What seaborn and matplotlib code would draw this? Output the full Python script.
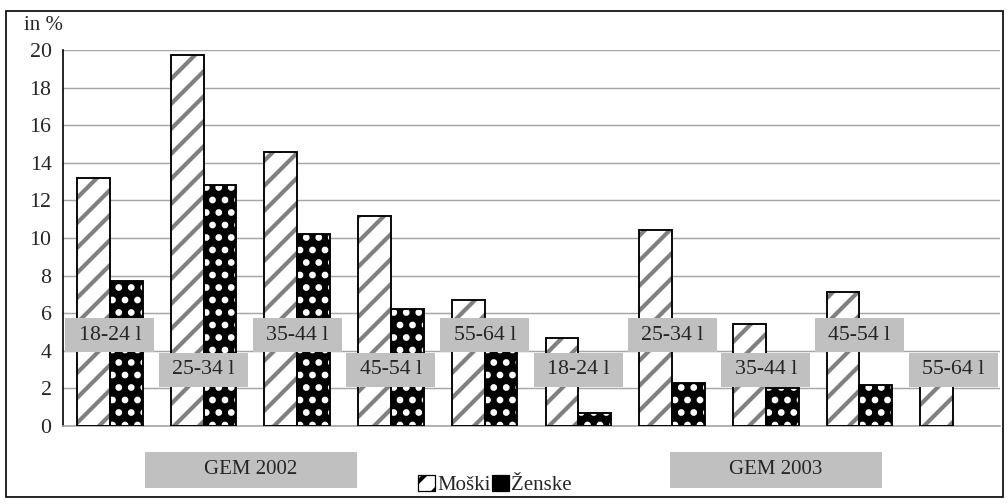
import numpy as np
import pandas as pd
import matplotlib
matplotlib.use('Agg')
import matplotlib.pyplot as plt
from matplotlib.patches import Rectangle
import seaborn as sns

# Podatki (odčitani s slike)
skupine = ['18-24 l', '25-34 l', '35-44 l', '45-54 l', '55-64 l',
           '18-24 l', '25-34 l', '35-44 l', '45-54 l', '55-64 l']
leta = ['GEM 2002'] * 5 + ['GEM 2003'] * 5
moski = [13.2, 19.75, 14.55, 11.15, 6.7, 4.7, 10.45, 5.4, 7.15, 2.9]
zenske = [7.7, 12.8, 10.2, 6.2, 4.0, 0.7, 2.3, 2.0, 2.2, np.nan]

sns.set_style('white')
plt.rcParams['font.family'] = ['Liberation Serif', 'DejaVu Serif']
plt.rcParams['hatch.linewidth'] = 2.0

kljuci = [f'{l} {s}' for l, s in zip(leta, skupine)]
df = pd.DataFrame({
    'kat': kljuci * 2,
    'vrednost': moski + zenske,
    'spol': ['Moški'] * 10 + ['Ženske'] * 10,
})

# dpi 150 -> gostejše šrafure
fig = plt.figure(figsize=(6.72, 3.36), dpi=150)
ax = fig.add_axes([63 / 1008, 1 - 426 / 504, 937 / 1008, 376 / 504])

sns.barplot(data=df, x='kat', y='vrednost', hue='spol', order=kljuci,
            hue_order=['Moški', 'Ženske'], width=0.7, gap=0, ax=ax,
            legend=False, errorbar=None)

# vzorci: moški = sive diagonalne črte, ženske = črno z belimi pikami
stili = [('white', '#808080', '//'), ('black', 'white', '..')]
for cont, (fc, hc, h) in zip(ax.containers, stili):
    for p in cont.patches:
        p.set_facecolor(fc)
        p.set_edgecolor(hc)
        p.set_hatch(h)
        p.set_linewidth(0)
        p.set_zorder(2)
        if np.isfinite(p.get_height()) and p.get_height() > 0:
            ax.add_patch(Rectangle((p.get_x(), p.get_y()), p.get_width(), p.get_height(),
                                   fill=False, ec='black', lw=0.9, zorder=3))

ax.set_xlim(-0.5, 9.5)
ax.set_ylim(0, 20)
ax.set_yticks(range(0, 21, 2))
ax.set_xticks([])
ax.set_xlabel('')
ax.set_ylabel('')
ax.yaxis.grid(True, color='#a6a6a6', lw=0.7)
ax.set_axisbelow(True)
for s in ['top', 'right']:
    ax.spines[s].set_visible(False)
ax.spines['left'].set_color('black')
ax.spines['left'].set_linewidth(0.8)
ax.spines['bottom'].set_color('#a6a6a6')
ax.spines['bottom'].set_linewidth(0.8)
ax.tick_params(axis='y', direction='out', length=4, width=0.7, color='black',
               labelsize=10.5, pad=1.5)

# oznake starostnih skupin (sivi okvirji)
for i, s in enumerate(skupine):
    y0 = 3.94 if i % 2 == 0 else 2.1
    ax.add_patch(Rectangle((i - 0.475, y0), 0.95, 1.8, fc='#c0c0c0', ec='none', zorder=4))
    ax.text(i, y0 + 0.9, s, ha='center', va='center', fontsize=10.5, zorder=5)

fig.text(24 / 1008, 1 - 25 / 504, 'in %', ha='left', va='center', fontsize=10)

# okvirji za leta
for x0, l in [(145, 'GEM 2002'), (670, 'GEM 2003')]:
    fig.patches.append(Rectangle((x0 / 1008, 1 - 488 / 504), 212 / 1008, 36 / 504,
                                 transform=fig.transFigure, fc='#c0c0c0', ec='none'))
    fig.text((x0 + 106) / 1008, 1 - 470 / 504, l, ha='center', va='center', fontsize=10)

# legenda
rocaji = [Rectangle((0, 0), 1, 1, fc=fc, ec='black', hatch=h, lw=0.6) for fc, hc, h in stili]
leg = fig.legend(rocaji, ['Moški', 'Ženske'], loc='center', bbox_to_anchor=(495 / 1008, 1 - 485 / 504),
                 ncol=2, frameon=False, fontsize=10, handlelength=0.8, handleheight=0.8,
                 handletextpad=0.1, columnspacing=0.1)

# zunanji okvir
fig.patches.append(Rectangle((6 / 1008, 7 / 504), 997 / 1008, 486 / 504,
                             transform=fig.transFigure, fill=False, ec='black', lw=0.8))

fig.savefig('out.png', dpi=150)
